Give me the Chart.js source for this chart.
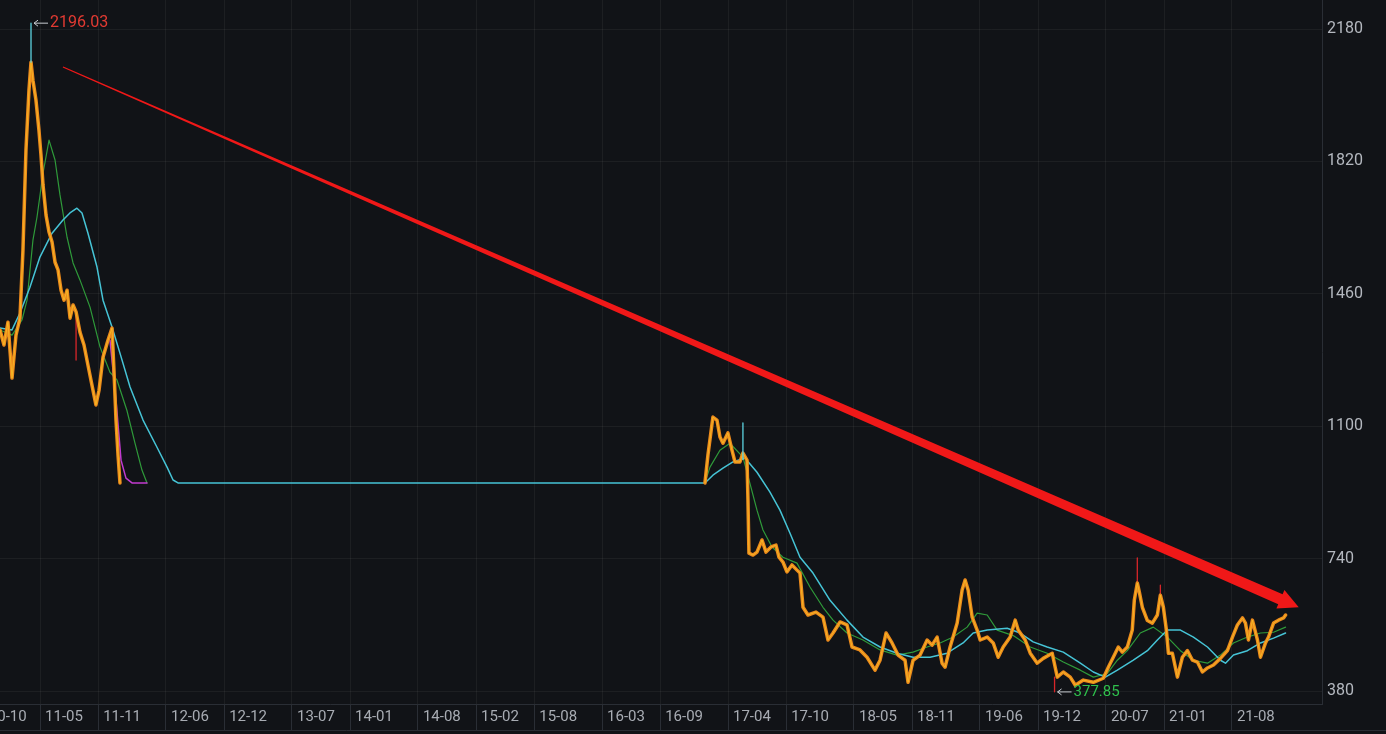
<!DOCTYPE html>
<html>
<head>
<meta charset="utf-8">
<title>K line</title>
<script src="https://cdn.jsdelivr.net/npm/chart.js@4.4.0/dist/chart.umd.min.js"></script>
<style>
  html, body { margin: 0; padding: 0; background: #111317; }
  canvas { display: block; }
</style>
</head>
<body>
<canvas id="k_chart" width="1386" height="734"></canvas>
<script>
// X VALUES ARE MONTHS COUNTED FROM 2010-10
const tick_months = [1.2, 7, 13, 20, 26, 33, 39, 46, 52, 58, 65, 71, 78, 84, 91, 97, 104, 110, 117, 123, 130];
const tick_labels = ['10-10', '11-05', '11-11', '12-06', '12-12', '13-07', '14-01', '14-08', '15-02', '15-08',
  '16-03', '16-09', '17-04', '17-10', '18-05', '18-11', '19-06', '19-12', '20-07', '21-01', '21-08'];
const y_ticks = [380, 740, 1100, 1460, 1820, 2180];

// PRICE (CLOSE)
const price_m = [2.87, 3.28, 3.69, 4.11, 4.52, 4.93, 5.24, 5.55, 5.86, 6.07,
  6.27, 6.58, 6.89, 7.10, 7.31, 7.62, 7.93, 8.24, 8.55, 8.86,
  9.17, 9.48, 9.79, 10.10, 10.41, 10.72, 11.12, 11.54, 11.95, 12.36,
  12.77, 13.09, 13.50, 14.01, 14.43, 14.63, 14.84, 15.05, 15.25, 75.62,
  75.93, 76.44, 76.86, 77.17, 77.48, 77.99, 78.41, 78.72, 79.23, 79.54,
  79.96, 80.06, 80.16, 80.58, 80.99, 81.51, 81.92, 82.44, 82.95, 83.26,
  83.67, 84.08, 84.60, 85.12, 85.43, 85.74, 86.25, 87.08, 87.80, 88.32,
  88.84, 89.56, 90.28, 90.80, 91.62, 92.35, 93.17, 93.69, 94.31, 94.93,
  95.55, 96.27, 96.58, 97.10, 97.82, 98.55, 99.06, 99.58, 100.09, 100.40,
  100.92, 101.65, 102.16, 102.47, 102.78, 103.20, 103.71, 104.02, 104.75, 105.37,
  105.88, 106.40, 107.12, 107.64, 107.95, 108.67, 109.19, 109.91, 110.53, 111.46,
  111.98, 112.60, 113.32, 113.84, 114.67, 115.70, 116.73, 117.25, 117.76, 118.28,
  118.69, 119.21, 119.72, 119.93, 120.24, 120.45, 120.76, 121.28, 121.79, 122.31,
  122.62, 122.93, 123.24, 123.45, 123.86, 124.38, 124.89, 125.41, 125.93, 126.44,
  126.96, 127.48, 128.10, 128.82, 129.54, 130.06, 130.57, 131.09, 131.40, 131.71,
  132.12, 132.64, 132.95, 133.47, 133.78, 134.30, 134.81, 135.33, 135.54];
const price_v = [1362, 1321, 1383, 1231, 1348, 1394, 1579, 1851, 2014, 2090,
  2041, 1987, 1905, 1837, 1756, 1674, 1628, 1601, 1546, 1525,
  1470, 1443, 1470, 1394, 1430, 1411, 1356, 1321, 1266, 1212,
  1158, 1198, 1288, 1334, 1367, 1253, 1117, 1022, 946, 946,
  1022, 1125, 1117, 1071, 1054, 1082, 1035, 1003, 1003, 1027,
  1008, 899, 755, 750, 758, 791, 758, 772, 777, 744,
  731, 704, 723, 709, 701, 608, 587, 595, 581, 519,
  538, 568, 560, 500, 492, 472, 437, 464, 538, 511,
  478, 464, 404, 464, 478, 519, 505, 527, 456, 445,
  500, 565, 655, 682, 655, 581, 546, 519, 527, 511,
  472, 500, 527, 573, 546, 519, 483, 456, 469, 483,
  418, 432, 418, 396, 410, 404, 415, 445, 472, 500,
  486, 500, 546, 627, 674, 649, 608, 572, 565, 587,
  641, 608, 546, 483, 483, 418, 472, 490, 464, 459,
  432, 443, 451, 469, 490, 527, 560, 579, 565, 519,
  573, 519, 472, 511, 527, 565, 573, 579, 587];

// LONG MOVING AVERAGE (CYAN)
const cyan_m = [2.87, 4.11, 4.93, 5.96, 6.99, 8.24, 9.37, 10.09, 10.81, 11.33,
  11.95, 12.88, 13.50, 14.43, 15.25, 16.29, 17.63, 19.07, 20.11, 20.73,
  21.24, 75.62, 76.44, 77.48, 78.51, 79.75, 80.99, 82.33, 83.36, 84.39,
  85.43, 86.77, 88.53, 90.28, 91.93, 93.69, 95.44, 97.10, 98.85, 100.61,
  102.26, 103.30, 104.75, 106.81, 108.15, 109.49, 110.94, 112.60, 114.36, 115.70,
  116.94, 118.18, 119.83, 121.28, 122.31, 123.34, 124.69, 126.03, 127.48, 128.82,
  129.34, 130.16, 131.60, 132.95, 134.30, 135.54];
const cyan_v = [1367, 1362, 1408, 1478, 1560, 1625, 1661, 1680, 1693, 1680,
  1625, 1533, 1443, 1370, 1299, 1207, 1117, 1043, 989, 954,
  946, 946, 967, 986, 1003, 1014, 975, 921, 872, 810,
  744, 701, 627, 573, 527, 500, 483, 472, 472, 483,
  511, 538, 546, 551, 538, 514, 500, 486, 456, 432,
  418, 437, 464, 490, 519, 546, 546, 527, 500, 464,
  456, 478, 490, 511, 524, 538];

// MID MOVING AVERAGE (GREEN)
const green_m = [2.87, 4.11, 5.14, 5.66, 6.27, 6.69, 7.31, 7.93, 8.55, 9.06,
  9.79, 10.41, 11.12, 12.16, 13.19, 14.22, 14.94, 15.97, 16.80, 17.52,
  18.04, 75.62, 76.14, 77.17, 78.20, 79.54, 80.27, 80.99, 81.61, 82.54,
  83.67, 85.12, 86.46, 87.80, 88.84, 90.28, 91.93, 93.69, 95.44, 97.10,
  98.55, 99.89, 101.23, 102.68, 103.71, 104.75, 105.78, 107.43, 109.19, 110.94,
  112.60, 114.36, 115.70, 117.15, 118.18, 119.21, 120.55, 121.89, 123.34, 124.69,
  126.03, 127.48, 128.82, 130.16, 131.60, 132.95, 134.30, 135.54];
const green_v = [1362, 1348, 1389, 1443, 1606, 1669, 1788, 1878, 1824, 1729,
  1614, 1544, 1498, 1424, 1316, 1247, 1226, 1143, 1054, 981,
  946, 946, 989, 1035, 1054, 1016, 944, 872, 818, 772,
  744, 728, 663, 608, 573, 538, 519, 492, 478, 486,
  500, 511, 527, 554, 592, 587, 546, 531, 500, 483,
  459, 437, 418, 428, 464, 490, 538, 554, 527, 490,
  464, 456, 478, 511, 527, 538, 540, 554];

// SHORT MOVING AVERAGE (MAGENTA), ONLY WHERE IT SHOWS
const mag_m = [14.22, 14.84, 15.36, 15.87, 16.49, 18.04];
const mag_v = [1334, 1171, 1008, 959, 946, 946];

// CANDLE WICKS THAT STICK OUT
const wick_m = [10.72, 111.7, 120.24, 122.62];
const wick_lo = [1280, 378, 674, 641];
const wick_hi = [1400, 418, 742, 668];

// CYAN MARKS (HIGH CANDLES)
const mark_m = [6.07, 79.54];
const mark_lo = [2090, 1010];
const mark_hi = [2196.03, 1109];

// EXTREMES AND TREND ARROW
const high_point = { m: 6.07, v: 2196.03 };
const low_point = { m: 111.7, v: 377.85 };
const arrow_m = [9.37, 136.9];
const arrow_v = [2077, 608];

// trading halt: long gap in months is left empty (only the long MA crosses it)
function toPoints(ms, vs, break_gap) {
  let pts = [];
  ms.forEach((m, i) => {
    if (break_gap && i > 0 && m - ms[i - 1] > 20) {
      pts.push({ x: (m + ms[i - 1]) / 2, y: null });
    }
    pts.push({ x: m, y: vs[i] });
  });
  return pts;
}

function toSegments(ms, lo, hi) {
  let pts = [];
  ms.forEach((m, i) => {
    pts.push({ x: m, y: lo[i] }, { x: m, y: hi[i] }, { x: m, y: null });
  });
  return pts;
}

// BACKGROUND
const bg_plugin = {
  id: 'bg',
  beforeDraw(chart) {
    const c = chart.ctx;
    c.save();
    c.fillStyle = '#111317';
    c.fillRect(0, 0, chart.width, chart.height);
    c.restore();
  },
};

// X LABELS, ARROW, EXTREME LABELS
const extra_plugin = {
  id: 'extra',
  afterDatasetsDraw(chart) {
    const c = chart.ctx;
    const xs = chart.scales.x;
    const ys = chart.scales.y;

    // trend arrow
    const x0 = xs.getPixelForValue(arrow_m[0]), y0 = ys.getPixelForValue(arrow_v[0]);
    const x1 = xs.getPixelForValue(arrow_m[1]), y1 = ys.getPixelForValue(arrow_v[1]);
    const len = Math.hypot(x1 - x0, y1 - y0);
    const ux = (x1 - x0) / len, uy = (y1 - y0) / len;
    const nx = -uy, ny = ux;
    const head_len = 20, head_w = 10, w0 = 0.6, w1 = 5.5;
    const bx = x1 - ux * head_len, by = y1 - uy * head_len;
    c.save();
    c.fillStyle = '#f01818';
    c.beginPath();
    c.moveTo(x0 + nx * w0, y0 + ny * w0);
    c.lineTo(bx + nx * w1, by + ny * w1);
    c.lineTo(bx + nx * head_w, by + ny * head_w);
    c.lineTo(x1, y1);
    c.lineTo(bx - nx * head_w, by - ny * head_w);
    c.lineTo(bx - nx * w1, by - ny * w1);
    c.lineTo(x0 - nx * w0, y0 - ny * w0);
    c.closePath();
    c.fill();
    c.restore();

    // extreme labels
    drawTag(c, xs.getPixelForValue(high_point.m), ys.getPixelForValue(high_point.v),
      high_point.v.toFixed(2), '#e23a32', '16px Roboto');
    drawTag(c, xs.getPixelForValue(low_point.m), ys.getPixelForValue(low_point.v),
      low_point.v.toFixed(2), '#2fbf4c', '15px Roboto');
  },
  afterDraw(chart) {
    const c = chart.ctx;
    const xs = chart.scales.x;
    const area = chart.chartArea;
    c.save();
    c.font = '15px Roboto';
    c.fillStyle = '#a8acb3';
    c.textBaseline = 'middle';
    c.textAlign = 'left';
    tick_months.forEach((m, i) => {
      const px = xs.getPixelForValue(m);
      c.fillText(tick_labels[i], px + 5, area.bottom + 13);
    });
    // bottom border of label row
    c.strokeStyle = '#2a2e35';
    c.lineWidth = 1;
    c.beginPath();
    c.moveTo(0, area.bottom + 26.5);
    c.lineTo(chart.width, area.bottom + 26.5);
    c.stroke();
    c.restore();
  },
};

function drawTag(c, px, py, text, color, font) {
  c.save();
  c.strokeStyle = '#c8ccd2';
  c.lineWidth = 1;
  c.beginPath();
  c.moveTo(px + 3, py);
  c.lineTo(px + 17, py);
  c.moveTo(px + 3, py);
  c.lineTo(px + 7, py - 3);
  c.moveTo(px + 3, py);
  c.lineTo(px + 7, py + 3);
  c.stroke();
  c.font = font;
  c.fillStyle = color;
  c.textBaseline = 'middle';
  c.fillText(text, px + 19, py);
  c.restore();
}

const ctx = document.getElementById('k_chart').getContext('2d');

new Chart(ctx, {
  type: 'line',
  data: {
    datasets: [
      {
        label: 'Price',
        data: toPoints(price_m, price_v, true),
        borderColor: '#ec8a1c',
        borderWidth: 3.5,
        spanGaps: false,
        order: 2,
      },
      {
        label: 'Price light',
        data: toPoints(price_m, price_v, true),
        borderColor: 'rgba(248, 200, 40, 0.7)',
        borderWidth: 1,
        spanGaps: false,
        order: 1,
      },
      {
        label: 'MA short',
        data: toPoints(mag_m, mag_v, true),
        borderColor: '#c23bd0',
        borderWidth: 1.5,
        order: 3,
      },
      {
        label: 'MA mid',
        data: toPoints(green_m, green_v, true),
        borderColor: '#2f9a3a',
        borderWidth: 1.2,
        spanGaps: false,
        order: 5,
      },
      {
        label: 'MA long',
        data: toPoints(cyan_m, cyan_v, false),
        borderColor: '#46c4d6',
        borderWidth: 1.5,
        order: 4,
      },
      {
        label: 'Wicks',
        data: toSegments(wick_m, wick_lo, wick_hi),
        borderColor: '#d8262a',
        borderWidth: 1.3,
        spanGaps: false,
        order: 6,
      },
      {
        label: 'Marks',
        data: toSegments(mark_m, mark_lo, mark_hi),
        borderColor: '#5cd2e0',
        borderWidth: 1.3,
        spanGaps: false,
        order: 0,
      },
    ],
  },
  options: {
    responsive: false,
    animation: false,
    layout: { padding: 0 },
    elements: {
      point: { radius: 0 },
      line: { tension: 0, fill: false, borderJoinStyle: 'round', borderCapStyle: 'round' },
    },
    plugins: {
      legend: { display: false },
      tooltip: { enabled: false },
    },
    scales: {
      x: {
        type: 'linear',
        min: 2.87,
        max: 139.3,
        afterBuildTicks: scale => {
          scale.ticks = tick_months
            .filter(v => v >= scale.min && v <= scale.max)
            .map(v => ({ value: v }));
        },
        afterFit: scale => {
          scale.height = 30;
          scale.paddingLeft = 0;
          scale.paddingRight = 0;
        },
        ticks: { display: false },
        grid: {
          color: 'rgba(255, 255, 255, 0.05)',
          drawTicks: true,
          tickLength: 26,
          tickColor: '#2a2e35',
        },
        border: { display: true, color: '#2a2e35' },
      },
      y: {
        position: 'right',
        min: 345,
        max: 2259,
        afterBuildTicks: scale => {
          scale.ticks = y_ticks.map(v => ({ value: v }));
        },
        afterFit: scale => {
          scale.width = 64;
          scale.paddingTop = 0;
          scale.paddingBottom = 0;
        },
        ticks: {
          color: '#b4b8bf',
          font: { family: 'Roboto', size: 16 },
          padding: 5,
          callback: value => String(value),
        },
        grid: {
          color: 'rgba(255, 255, 255, 0.05)',
          drawTicks: false,
        },
        border: { display: true, color: '#2a2e35' },
      },
    },
  },
  plugins: [bg_plugin, extra_plugin],
});
</script>
</body>
</html>
